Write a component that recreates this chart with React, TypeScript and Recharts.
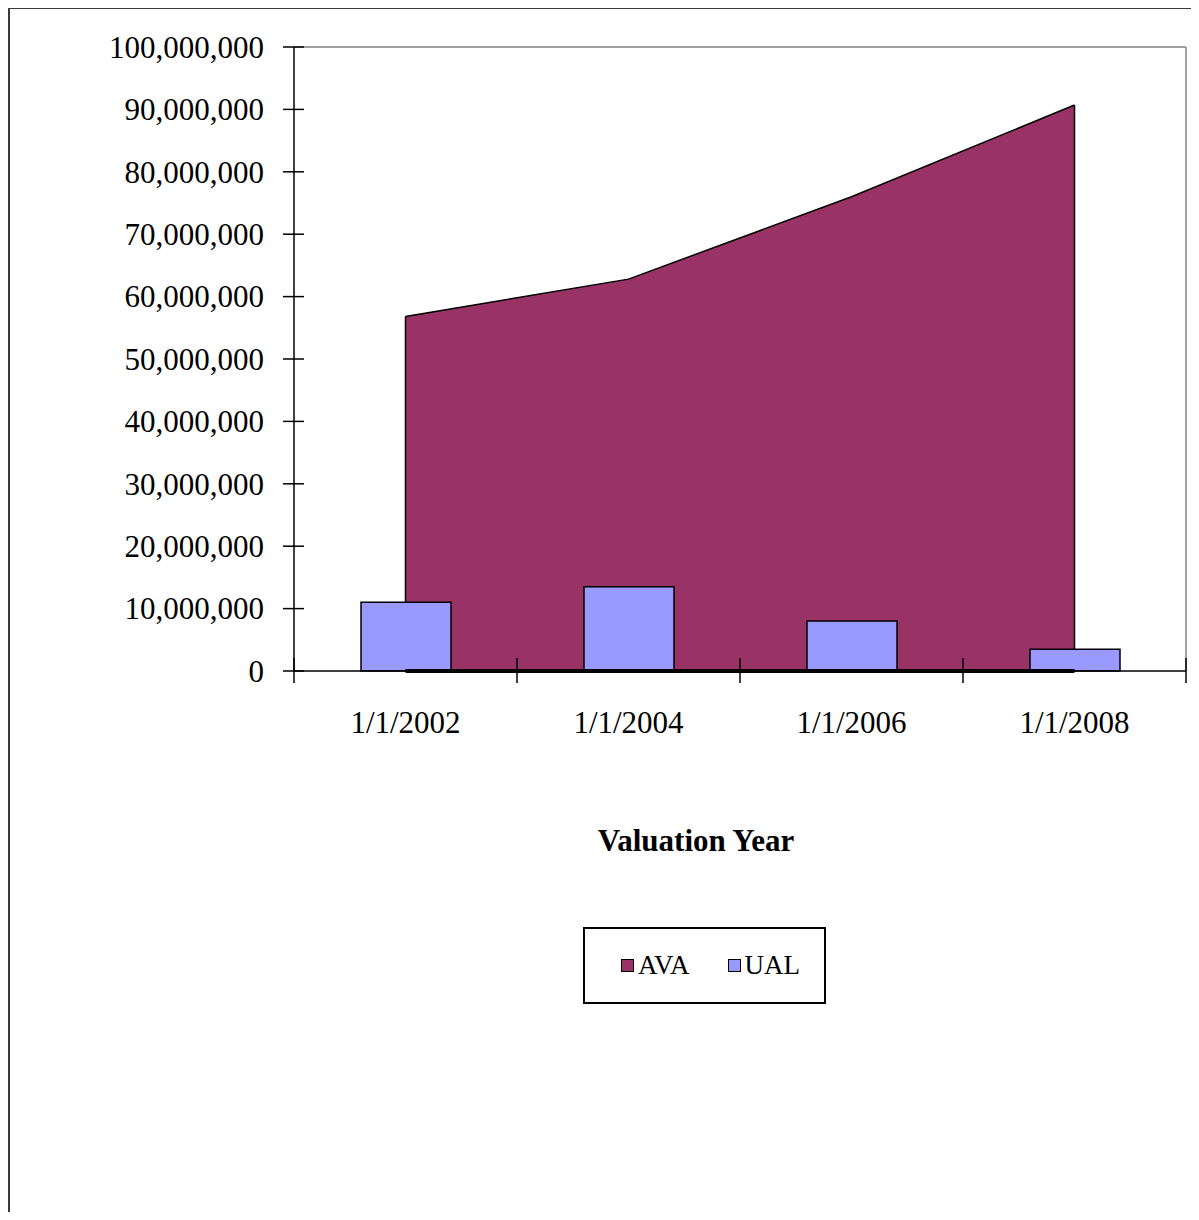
import React from 'react';
import {
  ComposedChart,
  Area,
  Bar,
  XAxis,
  YAxis,
  Legend,
  ReferenceLine,
} from 'recharts';

// Valuation years and series values
const CATEGORIES = ['1/1/2002', '1/1/2004', '1/1/2006', '1/1/2008'];
const AVA = [56800000, 62800000, 76000000, 90700000];
const UAL = [11000000, 13500000, 8000000, 3500000];
const Y_TICKS = [
  0, 10000000, 20000000, 30000000, 40000000, 50000000,
  60000000, 70000000, 80000000, 90000000, 100000000,
];
const SERIES_COLORS = { AVA: '#993366', UAL: '#9999FF' };

const data = CATEGORIES.map((year, i) => ({ year, AVA: AVA[i], UAL: UAL[i] }));

// Layout
const WIDTH = 1199;
const HEIGHT = 1220;
const PLOT_LEFT = 294;
const PLOT_RIGHT = 1186;
const PLOT_TOP = 47;
const PLOT_BOTTOM = 671;
const BAND = (PLOT_RIGHT - PLOT_LEFT) / CATEGORIES.length;
const FONT = '"Liberation Serif", "Times New Roman", serif';

// Side outlines of the AVA area sit between the area fill and the bars;
// its heavy base line sits above the bars
const EDGE_Z = 150;
const BASE_Z = 350;

const fmt = (v: number) => v.toLocaleString('en-US');

const YTick = (props: any) => {
  const { y, payload } = props;
  return (
    <g>
      <line x1={PLOT_LEFT - 11} x2={PLOT_LEFT + 10} y1={y} y2={y} stroke="#000" strokeWidth={1.5} />
      <text
        x={PLOT_LEFT - 30}
        y={y}
        dy="0.35em"
        textAnchor="end"
        fontFamily={FONT}
        fontSize={31}
        fill="#000"
      >
        {fmt(payload.value)}
      </text>
    </g>
  );
};

const XTick = (props: any) => {
  const { x, payload, index } = props;
  const left = x - BAND / 2;
  const right = x + BAND / 2;
  return (
    <g>
      <line x1={left} x2={left} y1={PLOT_BOTTOM - 13} y2={PLOT_BOTTOM + 12} stroke="#000" strokeWidth={1.5} />
      {index === CATEGORIES.length - 1 && (
        <line x1={right} x2={right} y1={PLOT_BOTTOM - 13} y2={PLOT_BOTTOM + 12} stroke="#000" strokeWidth={1.5} />
      )}
      <text
        x={x}
        y={PLOT_BOTTOM + 62}
        textAnchor="middle"
        fontFamily={FONT}
        fontSize={31}
        fill="#000"
      >
        {payload.value}
      </text>
    </g>
  );
};

const AxisTitle = (props: any) => {
  const { viewBox } = props;
  return (
    <text
      x={696}
      y={viewBox.y + 180}
      textAnchor="middle"
      fontFamily={FONT}
      fontSize={31}
      fontWeight="bold"
      fill="#000"
    >
      Valuation Year
    </text>
  );
};

const LegendBox = (props: any) => {
  const { payload } = props;
  return (
    <div
      style={{
        boxSizing: 'border-box',
        width: 243,
        height: 77,
        border: '2px solid #000',
        background: '#fff',
        display: 'flex',
        alignItems: 'center',
        paddingLeft: 36,
        fontFamily: FONT,
        fontSize: 27,
        color: '#000',
      }}
    >
      {(payload || []).map((item: any, i: number) => (
        <div
          key={item.value}
          style={{ display: 'flex', alignItems: 'center', marginLeft: i === 0 ? 0 : 38 }}
        >
          <span
            style={{
              display: 'inline-block',
              boxSizing: 'border-box',
              width: 13,
              height: 13,
              background: SERIES_COLORS[item.value as 'AVA' | 'UAL'],
              border: '1.5px solid #000',
              marginRight: 4,
            }}
          />
          <span>{item.value}</span>
        </div>
      ))}
    </div>
  );
};

export default function App() {
  return (
    <div
      style={{
        position: 'relative',
        width: WIDTH,
        height: HEIGHT,
        margin: -8,
        overflow: 'hidden',
        background: '#fff',
      }}
    >
      <div
        style={{
          position: 'absolute',
          left: 7,
          top: 6,
          width: 1400,
          height: 1400,
          borderLeft: '3px solid #3a3a3a',
          borderTop: '3px solid #3a3a3a',
        }}
      />
      <div style={{ position: 'absolute', left: 0, top: 0 }}>
        <ComposedChart
          width={WIDTH}
          height={HEIGHT}
          data={data}
          margin={{ top: PLOT_TOP, right: 0, bottom: 0, left: 0 }}
        >
          <XAxis
            dataKey="year"
            height={HEIGHT - PLOT_BOTTOM}
            axisLine={{ stroke: '#000', strokeWidth: 1.5 }}
            tickLine={false}
            interval={0}
            tick={(p: any) => <XTick {...p} />}
            label={(p: any) => <AxisTitle {...p} />}
          />
          <YAxis
            yAxisId="left"
            width={PLOT_LEFT}
            domain={[0, 100000000]}
            ticks={Y_TICKS}
            interval={0}
            axisLine={{ stroke: '#000', strokeWidth: 1.5 }}
            tickLine={false}
            tick={(p: any) => <YTick {...p} />}
          />
          <YAxis
            yAxisId="right"
            orientation="right"
            width={WIDTH - PLOT_RIGHT}
            domain={[0, 1]}
            type="number"
            axisLine={{ stroke: '#808080', strokeWidth: 1.5 }}
            tickLine={false}
            tick={false}
          />
          <ReferenceLine yAxisId="left" y={100000000} stroke="#808080" strokeWidth={1.5} />
          <Area
            yAxisId="left"
            type="linear"
            dataKey="AVA"
            name="AVA"
            fill={SERIES_COLORS.AVA}
            fillOpacity={1}
            stroke="#000"
            strokeWidth={1.5}
            dot={false}
            activeDot={false}
            isAnimationActive={false}
          />
          <ReferenceLine
            yAxisId="left"
            zIndex={EDGE_Z}
            segment={[
              { x: CATEGORIES[0], y: 0 },
              { x: CATEGORIES[0], y: AVA[0] },
            ]}
            stroke="#000"
            strokeWidth={1.5}
          />
          <ReferenceLine
            yAxisId="left"
            zIndex={EDGE_Z}
            segment={[
              { x: CATEGORIES[CATEGORIES.length - 1], y: 0 },
              { x: CATEGORIES[CATEGORIES.length - 1], y: AVA[AVA.length - 1] },
            ]}
            stroke="#000"
            strokeWidth={1.5}
          />
          <ReferenceLine
            yAxisId="left"
            zIndex={BASE_Z}
            segment={[
              { x: CATEGORIES[0], y: 0 },
              { x: CATEGORIES[CATEGORIES.length - 1], y: 0 },
            ]}
            stroke="#000"
            strokeWidth={4}
          />
          <Bar
            yAxisId="left"
            dataKey="UAL"
            name="UAL"
            fill={SERIES_COLORS.UAL}
            stroke="#000"
            strokeWidth={1.5}
            barSize={90}
            isAnimationActive={false}
          />
          <Legend
            layout="horizontal"
            align="center"
            verticalAlign="middle"
            content={(p: any) => <LegendBox {...p} />}
            wrapperStyle={{ position: 'absolute', left: 583, top: 927, width: 243, height: 77 }}
          />
        </ComposedChart>
      </div>
    </div>
  );
}
